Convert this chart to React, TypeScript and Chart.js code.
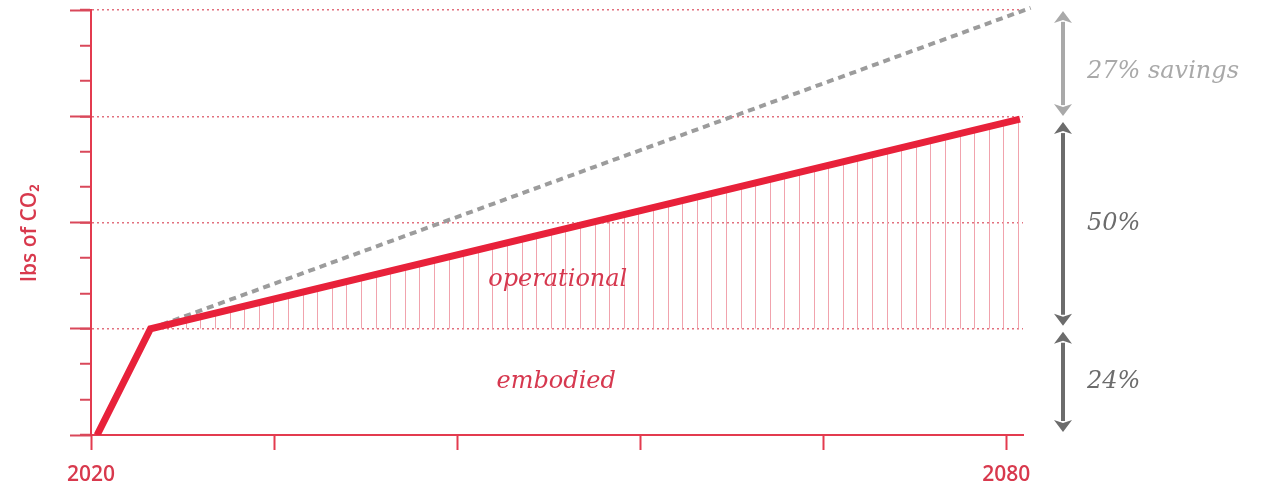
import React, { useEffect, useRef } from 'react';
import { Chart, registerables } from 'chart.js';

Chart.register(...registerables);

// ---- data ----
const xTickYears = [2020, 2032, 2044, 2056, 2068, 2080];
const xTickLabels = ['2020', '', '', '', '', '2080'];
const yMinorTicks = [0, 1, 2, 3, 4, 5, 6, 7, 8, 9, 10, 11, 12];
const yMajorTicks = [0, 3, 6, 9, 12];
const actualYears = [2020.4, 2023.9, 2080.9];
const actualCO2 = [0, 3, 8.92];
const baselineYears = [2023.9, 2081.6];
const baselineCO2 = [3, 12.06];
const embodiedLevel = 3;
const bracketLabels = ['27% savings', '50%', '24%'];
const bracketTop = [12.06, 8.92, 3];
const bracketBottom = [8.92, 3, 0];
const areaLabels = ['operational', 'embodied'];
const areaLabelYears = [2050.6, 2050.5];
const areaLabelCO2 = [4.38, 1.5];

const RED = '#e8213a';
const AXIS_RED = '#e33b4f';
const GRID_RED = '#e2707e';
const LIGHT_GREY = '#a9a9a9';
const DARK_GREY = '#6c6c6c';

function makeHatch(): CanvasPattern | string {
  const c = document.createElement('canvas');
  c.width = 146;
  c.height = 4;
  const g = c.getContext('2d');
  if (!g) return 'rgba(0,0,0,0)';
  g.fillStyle = '#f1a3ad';
  for (let k = 0; k < 10; k++) {
    const px = Math.round(10.6 + k * 14.6);
    g.fillRect(px, 0, 1, 4);
  }
  const p = g.createPattern(c, 'repeat');
  return p || 'rgba(0,0,0,0)';
}

function drawArrow(ctx: CanvasRenderingContext2D, x: number, top: number, bot: number, color: string) {
  const hw = 9;
  const hl = 12;
  ctx.fillStyle = color;
  ctx.fillRect(x - 2, top + hl - 1, 4, bot - top - 2 * hl + 2);
  ctx.beginPath();
  ctx.moveTo(x, top);
  ctx.lineTo(x + hw, top + hl);
  ctx.lineTo(x, top + hl - 3);
  ctx.lineTo(x - hw, top + hl);
  ctx.closePath();
  ctx.fill();
  ctx.beginPath();
  ctx.moveTo(x, bot);
  ctx.lineTo(x + hw, bot - hl);
  ctx.lineTo(x, bot - hl + 3);
  ctx.lineTo(x - hw, bot - hl);
  ctx.closePath();
  ctx.fill();
}

const annotationPlugin = {
  id: 'annotationPlugin',
  afterDatasetsDraw(chart: any) {
    const { ctx, chartArea, scales } = chart;
    const xs = scales.x;
    const ys = scales.y;
    ctx.save();
    ctx.font = 'italic 24px "DejaVu Serif"';
    ctx.textBaseline = 'middle';
    ctx.textAlign = 'center';
    ctx.fillStyle = '#d6384f';
    areaLabels.forEach((t, i) => {
      ctx.fillText(t, xs.getPixelForValue(areaLabelYears[i]), ys.getPixelForValue(areaLabelCO2[i]));
    });
    const ax = chartArea.right + 40;
    bracketLabels.forEach((t, i) => {
      const top = ys.getPixelForValue(bracketTop[i]) + 3;
      const bot = ys.getPixelForValue(bracketBottom[i]) - 3;
      const color = i === 0 ? LIGHT_GREY : DARK_GREY;
      drawArrow(ctx, ax, top, bot, color);
      ctx.fillStyle = color;
      ctx.textAlign = 'left';
      ctx.fillText(t, ax + 24, (top + bot) / 2 + (i === 0 ? 8 : 0));
    });
    ctx.restore();
  },
};

export default function App() {
  const ref = useRef<HTMLCanvasElement | null>(null);

  useEffect(() => {
    document.body.style.margin = '0';
    document.body.style.overflow = 'hidden';
    const canvas = ref.current;
    if (!canvas) return;
    const hatch = makeHatch();

    const chart = new Chart(canvas, {
      type: 'line',
      data: {
        datasets: [
          {
            label: 'actual',
            data: actualYears.map((x, i) => ({ x, y: actualCO2[i] })),
            borderColor: RED,
            borderWidth: 7,
            borderJoinStyle: 'miter',
            pointRadius: 0,
            tension: 0,
            fill: { target: { value: embodiedLevel }, above: hatch as any, below: 'rgba(0,0,0,0)' },
          } as any,
          {
            label: 'baseline',
            data: baselineYears.map((x, i) => ({ x, y: baselineCO2[i] })),
            borderColor: '#9c9c9c',
            borderWidth: 4,
            borderDash: [7, 5],
            pointRadius: 0,
            fill: false,
            clip: false,
          } as any,
        ],
      },
      options: {
        responsive: false,
        animation: false,
        layout: { padding: { left: 0, right: 247, top: 10, bottom: 0 } },
        plugins: { legend: { display: false }, tooltip: { enabled: false } },
        scales: {
          x: {
            type: 'linear',
            min: 2020,
            max: 2081.1,
            afterBuildTicks: (s: any) => {
              s.ticks = xTickYears.map((v) => ({ value: v }));
            },
            afterFit: (s: any) => {
              s.height = 53;
            },
            border: { color: AXIS_RED, width: 2 },
            grid: {
              drawOnChartArea: false,
              drawTicks: true,
              tickLength: 15,
              tickColor: AXIS_RED,
              tickWidth: 2,
            },
            ticks: {
              padding: 12,
              maxRotation: 0,
              autoSkip: false,
              color: '#d8394d',
              font: { family: '"Open Sans"', size: 21, weight: '600' as any },
              callback: (v: any) => {
                const i = xTickYears.indexOf(Number(v));
                return i >= 0 ? xTickLabels[i] : '';
              },
            },
          },
          y: {
            type: 'linear',
            position: 'left',
            weight: 0,
            min: 0,
            max: 12,
            afterBuildTicks: (s: any) => {
              s.ticks = yMinorTicks.map((v) => ({ value: v }));
            },
            afterFit: (s: any) => {
              s.width = 0;
            },
            border: {
              color: AXIS_RED,
              width: 2,
              dash: [2, 3],
            },
            grid: {
              drawOnChartArea: true,
              drawTicks: true,
              tickLength: 11,
              tickWidth: 2,
              tickColor: '#d9485a',
              lineWidth: 1.5,
              color: (c: any) =>
                c.tick && c.tick.value % 3 === 0 && c.tick.value > 0 ? GRID_RED : 'rgba(0,0,0,0)',
            },
            ticks: { display: false },
          },
          yMajor: {
            type: 'linear',
            position: 'left',
            weight: 1,
            min: 0,
            max: 12,
            afterBuildTicks: (s: any) => {
              s.ticks = yMajorTicks.map((v) => ({ value: v }));
            },
            afterFit: (s: any) => {
              s.width = 91;
            },
            border: { display: false },
            grid: {
              drawOnChartArea: false,
              drawTicks: true,
              tickLength: 21,
              tickWidth: 2,
              tickColor: '#d9485a',
            },
            ticks: { display: false },
            title: {
              display: true,
              text: 'lbs of CO\u2082\u2003',
              color: '#d8394d',
              padding: { top: 17, bottom: 0 },
              font: { family: '"Open Sans"', size: 21, weight: '600' as any },
            },
          },
        },
      },
      plugins: [annotationPlugin],
    });

    return () => chart.destroy();
  }, []);

  return (
    <div style={{ width: 1270, height: 488 }}>
      <canvas ref={ref} width={1270} height={488} style={{ display: 'block' }} />
    </div>
  );
}
